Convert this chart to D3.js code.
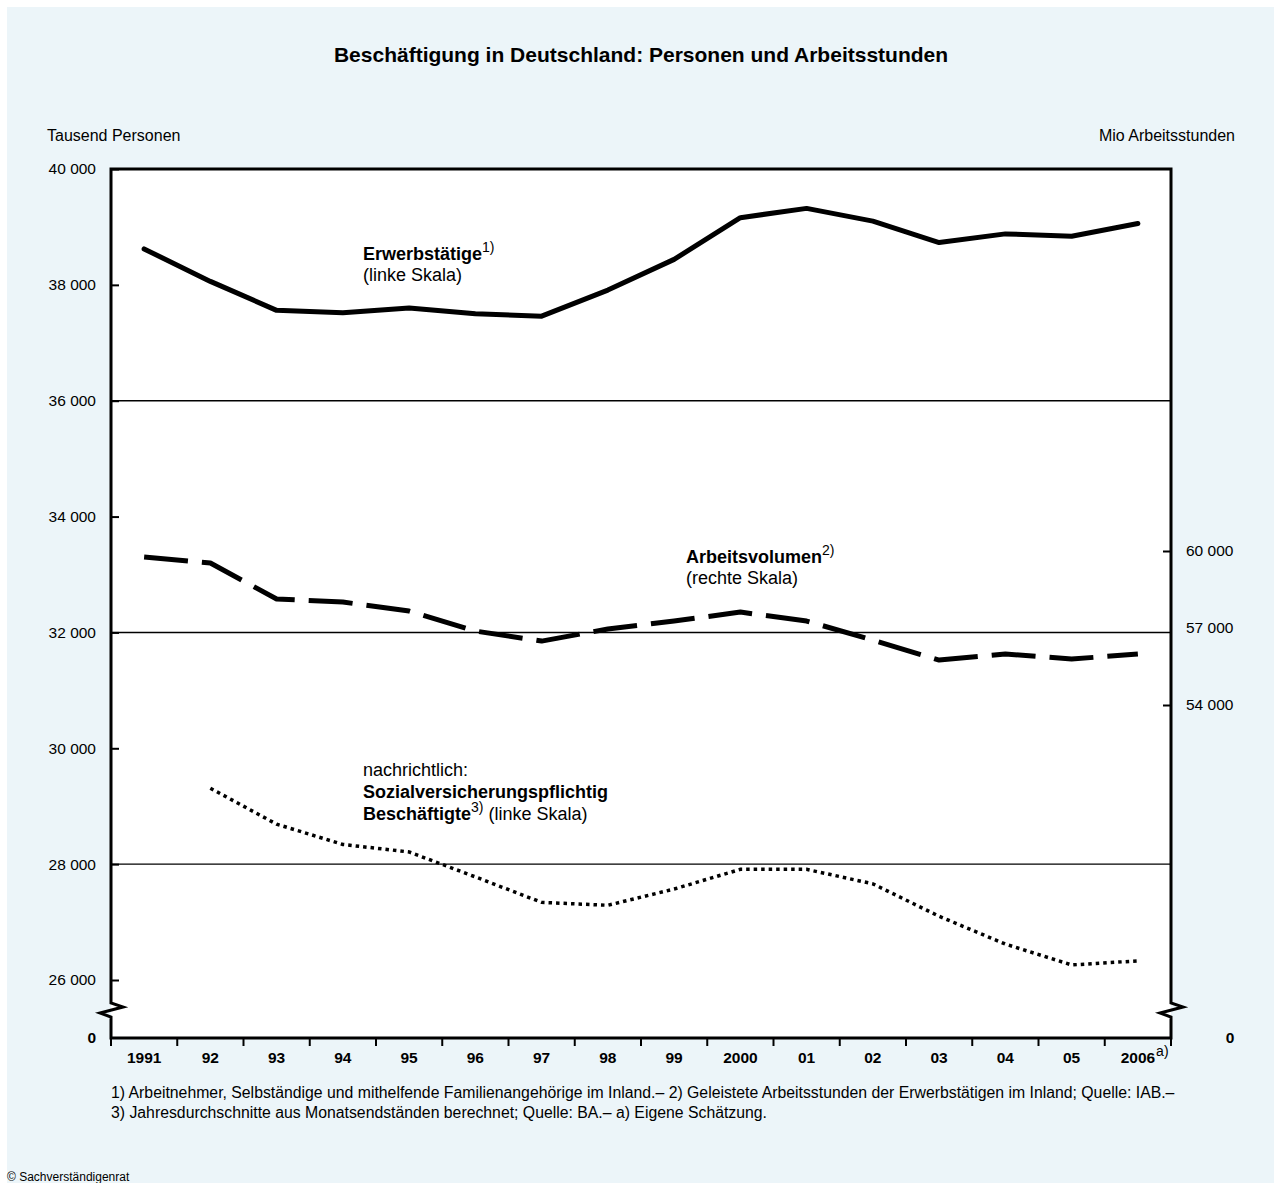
<!DOCTYPE html>
<html lang="de">
<head>
<meta charset="utf-8">
<title>Beschäftigung in Deutschland</title>
<script src="https://cdn.jsdelivr.net/npm/d3@7/dist/d3.min.js"></script>
<style>
  html, body { margin: 0; padding: 0; background: #ffffff; }
  svg { display: block; font-family: "Liberation Sans", Arial, Helvetica, sans-serif; }
</style>
</head>
<body>
<svg id="chart" width="1274" height="1183"></svg>
<script>
// Years on the horizontal axis and their printed labels
const years = [1991, 1992, 1993, 1994, 1995, 1996, 1997, 1998, 1999, 2000, 2001, 2002, 2003, 2004, 2005, 2006];
const yearLabels = ["1991", "92", "93", "94", "95", "96", "97", "98", "99", "2000", "01", "02", "03", "04", "05", "2006"];

// Erwerbstätige, Tausend Personen (linke Skala)
const erwerbstaetige = [38620, 38060, 37560, 37520, 37600, 37500, 37460, 37910, 38440, 39160, 39320, 39100, 38730, 38880, 38840, 39060];

// Arbeitsvolumen, Mio Arbeitsstunden (rechte Skala)
const arbeitsvolumen = [59770, 59530, 58130, 58010, 57660, 56880, 56490, 56960, 57270, 57620, 57270, 56530, 55750, 55990, 55790, 55990];

// Sozialversicherungspflichtig Beschäftigte, Tausend Personen (linke Skala), ab 1992
const svBeschaeftigte = [null, 29310, 28690, 28340, 28210, 27780, 27340, 27290, 27570, 27910, 27910, 27660, 27100, 26620, 26260, 26330];

// Tick values
const leftTicks = [26000, 28000, 30000, 32000, 34000, 36000, 38000, 40000];
const leftGrid = [28000, 32000, 36000];
const rightTicks = [54000, 57000, 60000];

const svg = d3.select("#chart");
const W = 1274, H = 1183;
const plot = { left: 111, right: 1171, top: 169, bottom: 1038 };
const breakY = 1003;

const de = d3.formatLocale({ decimal: ",", thousands: " ", grouping: [3], currency: ["", " €"] });
const fmt = de.format(",d");

// background
svg.append("rect").attr("x", 7).attr("y", 7).attr("width", W - 7).attr("height", H - 7).attr("fill", "#ecf5f9");
svg.append("rect")
  .attr("x", plot.left).attr("y", plot.top)
  .attr("width", plot.right - plot.left).attr("height", plot.bottom - plot.top)
  .attr("fill", "#ffffff");

// scales
const x = d3.scaleBand().domain(years).range([plot.left, plot.right]).padding(0);
const yL = d3.scaleLinear().domain([26000, 40000]).range([980, plot.top]);
const yR = d3.scaleLinear().domain([54000, 60000]).range([705, 551]);
const cx = d => x(d) + x.bandwidth() / 2;

// title
svg.append("text")
  .attr("x", 641).attr("y", 62)
  .attr("text-anchor", "middle")
  .attr("font-size", 21).attr("font-weight", "bold")
  .attr("fill", "#000")
  .text("Beschäftigung in Deutschland: Personen und Arbeitsstunden");

// axis captions
svg.append("text").attr("x", 47).attr("y", 141).attr("font-size", 16).text("Tausend Personen");
svg.append("text").attr("x", 1235).attr("y", 141).attr("font-size", 16).attr("text-anchor", "end").text("Mio Arbeitsstunden");

// horizontal grid lines
svg.append("g").selectAll("line").data(leftGrid).join("line")
  .attr("x1", plot.left).attr("x2", plot.right)
  .attr("y1", d => yL(d)).attr("y2", d => yL(d))
  .attr("stroke", "#000").attr("stroke-width", 1.4);

// left axis
const gL = svg.append("g").attr("transform", `translate(${plot.left},0)`)
  .call(d3.axisLeft(yL).tickValues(leftTicks).tickFormat(fmt).tickSizeInner(-8).tickSizeOuter(0).tickPadding(15));
gL.select(".domain").remove();
gL.selectAll("line").attr("stroke", "#000").attr("stroke-width", 2);
gL.selectAll("text").attr("font-size", 15.5).attr("font-family", null).attr("fill", "#000");

// right axis
const gR = svg.append("g").attr("transform", `translate(${plot.right},0)`)
  .call(d3.axisRight(yR).tickValues(rightTicks).tickFormat(fmt).tickSizeInner(-8).tickSizeOuter(0).tickPadding(15));
gR.select(".domain").remove();
gR.selectAll("line").attr("stroke", "#000").attr("stroke-width", 2)
  .attr("display", d => d === 57000 ? "none" : null);
gR.selectAll("text").attr("font-size", 15.5).attr("font-family", null).attr("fill", "#000");

// zero labels of the broken axes
svg.append("text").attr("x", 96).attr("y", plot.bottom).attr("dy", "0.32em")
  .attr("text-anchor", "end").attr("font-size", 15.5).attr("font-weight", "bold").text("0");
svg.append("text").attr("x", 1230).attr("y", plot.bottom).attr("dy", "0.32em")
  .attr("text-anchor", "middle").attr("font-size", 15.5).attr("font-weight", "bold").text("0");

// bottom axis: labels centred in the bands, ticks at band boundaries
const gX = svg.append("g").attr("transform", `translate(0,${plot.bottom})`)
  .call(d3.axisBottom(x).tickFormat((d, i) => yearLabels[i]).tickSize(0).tickPadding(14));
gX.select(".domain").remove();
gX.selectAll("text").attr("font-size", 15.5).attr("font-weight", "bold").attr("font-family", null).attr("fill", "#000");
const bounds = years.map(d => x(d)).concat([plot.right]);
svg.append("g").selectAll("line").data(bounds).join("line")
  .attr("x1", d => d).attr("x2", d => d)
  .attr("y1", plot.bottom).attr("y2", plot.bottom + 8)
  .attr("stroke", "#000").attr("stroke-width", 2);

// footnote mark after the last year
const lastNode = gX.selectAll("text").filter(d => d === 2006).node();
const lastW = lastNode.getComputedTextLength();
svg.append("text")
  .attr("x", cx(2006) + lastW / 2 + 1).attr("y", plot.bottom + 18)
  .attr("font-size", 14).text("a)");

// frame with axis breaks
const zig = (xa, dir) => [
  [xa, breakY], [xa + 12 * dir, breakY + 4], [xa - 11 * dir, breakY + 10], [xa, breakY + 14]
];
const frame = d3.path();
frame.moveTo(plot.left, plot.bottom);
frame.lineTo(plot.left, breakY + 14);
zig(plot.left, 1).reverse().forEach(p => frame.lineTo(p[0], p[1]));
frame.lineTo(plot.left, plot.top);
frame.lineTo(plot.right, plot.top);
frame.lineTo(plot.right, breakY);
zig(plot.right, 1).forEach(p => frame.lineTo(p[0], p[1]));
frame.lineTo(plot.right, plot.bottom);
frame.closePath();
svg.append("path").attr("d", frame.toString())
  .attr("fill", "none").attr("stroke", "#000").attr("stroke-width", 3)
  .attr("stroke-linejoin", "miter");

// series lines
const lineL = d3.line().defined(d => d[1] != null).x(d => cx(d[0])).y(d => yL(d[1]));
const lineR = d3.line().x(d => cx(d[0])).y(d => yR(d[1]));

svg.append("path")
  .attr("d", lineL(years.map((y, i) => [y, erwerbstaetige[i]])))
  .attr("fill", "none").attr("stroke", "#000").attr("stroke-width", 5)
  .attr("stroke-linejoin", "round").attr("stroke-linecap", "round");

svg.append("path")
  .attr("d", lineR(years.map((y, i) => [y, arbeitsvolumen[i]])))
  .attr("fill", "none").attr("stroke", "#000").attr("stroke-width", 5)
  .attr("stroke-dasharray", "44 14")
  .attr("stroke-linejoin", "round");

svg.append("path")
  .attr("d", lineL(years.map((y, i) => [y, svBeschaeftigte[i]])))
  .attr("fill", "none").attr("stroke", "#000").attr("stroke-width", 3.5)
  .attr("stroke-dasharray", "3.5 4");

// series labels
function label(xp, yp, parts) {
  const t = svg.append("text").attr("x", xp).attr("y", yp).attr("font-size", 18).attr("fill", "#000");
  parts.forEach(p => {
    const s = t.append("tspan").text(p.t);
    if (p.b) s.attr("font-weight", "bold");
    if (p.sup) s.attr("font-size", 14).attr("dy", -8);
    if (p.down) s.attr("dy", 8);
  });
  return t;
}
label(363, 260, [{ t: "Erwerbstätige", b: true }, { t: "1)", sup: true }]);
label(363, 281, [{ t: "(linke Skala)" }]);

label(686, 563, [{ t: "Arbeitsvolumen", b: true }, { t: "2)", sup: true }]);
label(686, 584, [{ t: "(rechte Skala)" }]);

label(363, 776, [{ t: "nachrichtlich:" }]);
label(363, 798, [{ t: "Sozialversicherungspflichtig", b: true }]);
label(363, 820, [{ t: "Beschäftigte", b: true }, { t: "3)", sup: true }, { t: " (linke Skala)", down: true }]);

// footnotes
svg.append("text").attr("x", 111).attr("y", 1098).attr("font-size", 15.8)
  .text("1) Arbeitnehmer, Selbständige und mithelfende Familienangehörige im Inland.– 2) Geleistete Arbeitsstunden der Erwerbstätigen im Inland; Quelle: IAB.–");
svg.append("text").attr("x", 111).attr("y", 1118).attr("font-size", 15.8)
  .text("3) Jahresdurchschnitte aus Monatsendständen berechnet; Quelle: BA.– a) Eigene Schätzung.");
svg.append("text").attr("x", 7).attr("y", 1181).attr("font-size", 12)
  .text("© Sachverständigenrat");
</script>
</body>
</html>
